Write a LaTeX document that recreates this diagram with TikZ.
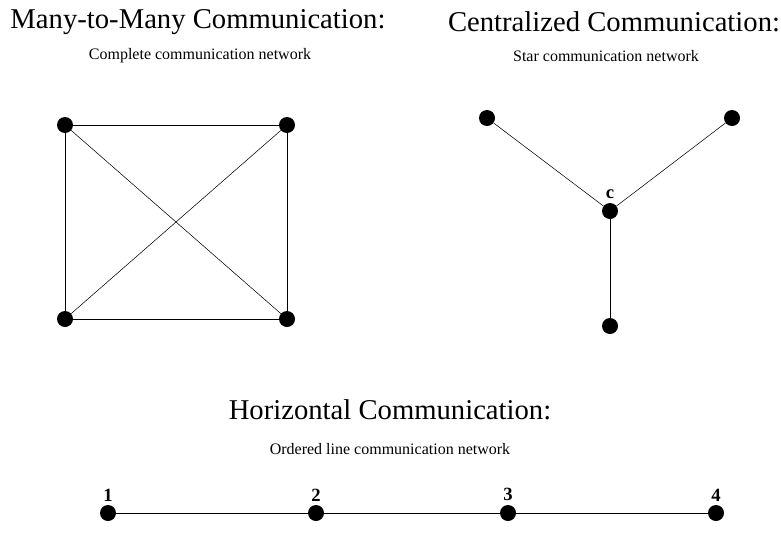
\documentclass[tikz,border=0pt]{standalone}
\usepackage{fontspec}
\setmainfont{Liberation Serif}
\usepackage{tikz}

\tikzset{
  netdot/.style={circle,fill=black,inner sep=0pt,minimum size=12pt},
  nettitle/.style={inner sep=0.75pt,font=\fontsize{21.5}{24}\selectfont},
  netsub/.style={inner sep=0.75pt,font=\fontsize{12}{14}\selectfont},
  netlabel/.style={inner sep=0.75pt,font=\fontsize{14}{16}\selectfont\bfseries}
}

\begin{document}
\begin{tikzpicture}[x=0.75pt,y=0.75pt,yscale=-1,xscale=1]
\useasboundingbox (0,0) rectangle (781,550);

% Text Node
\draw (198,22) node [nettitle] (t1) {Many-to-Many Communication:};
% Text Node
\draw (200,56) node [netsub] (s1) {Complete communication network};
% Text Node
\draw (614,22) node [nettitle] (t2) {Centralized Communication:};
% Text Node
\draw (606,56) node [netsub] (s2) {Star communication network};
% Text Node
\draw (390,410) node [nettitle] (t3) {Horizontal Communication:};
% Text Node
\draw (390,449) node [netsub] (s3) {Ordered line communication network};

%Complete network
\draw (65,125) node [netdot] (ka) {};
\draw (287,125) node [netdot] (kb) {};
\draw (65,319) node [netdot] (kc) {};
\draw (287,319) node [netdot] (kd) {};
\draw (ka) -- (kb) -- (kd) -- (kc) -- (ka) ;
\draw (ka) -- (kd) ;
\draw (kb) -- (kc) ;

%Star network
\draw (487,118) node [netdot] (sa) {};
\draw (732,118) node [netdot] (sb) {};
\draw (610,211) node [netdot] (sc) {};
\draw (610,326) node [netdot] (sd) {};
\draw (sc) node [netlabel,above=8pt] {c};
\draw (sa) -- (sc) ;
\draw (sb) -- (sc) ;
\draw (sc) -- (sd) ;

%Line network
\draw (108,513) node [netdot] (l1) {};
\draw (316,513) node [netdot] (l2) {};
\draw (508,513) node [netdot] (l3) {};
\draw (716,513) node [netdot] (l4) {};
\draw (l1) node [netlabel,above=8pt] {1};
\draw (l2) node [netlabel,above=8pt] {2};
\draw (l3) node [netlabel,above=8pt] {3};
\draw (l4) node [netlabel,above=8pt] {4};
\draw (l1) -- (l2) -- (l3) -- (l4) ;

\end{tikzpicture}
\end{document}
